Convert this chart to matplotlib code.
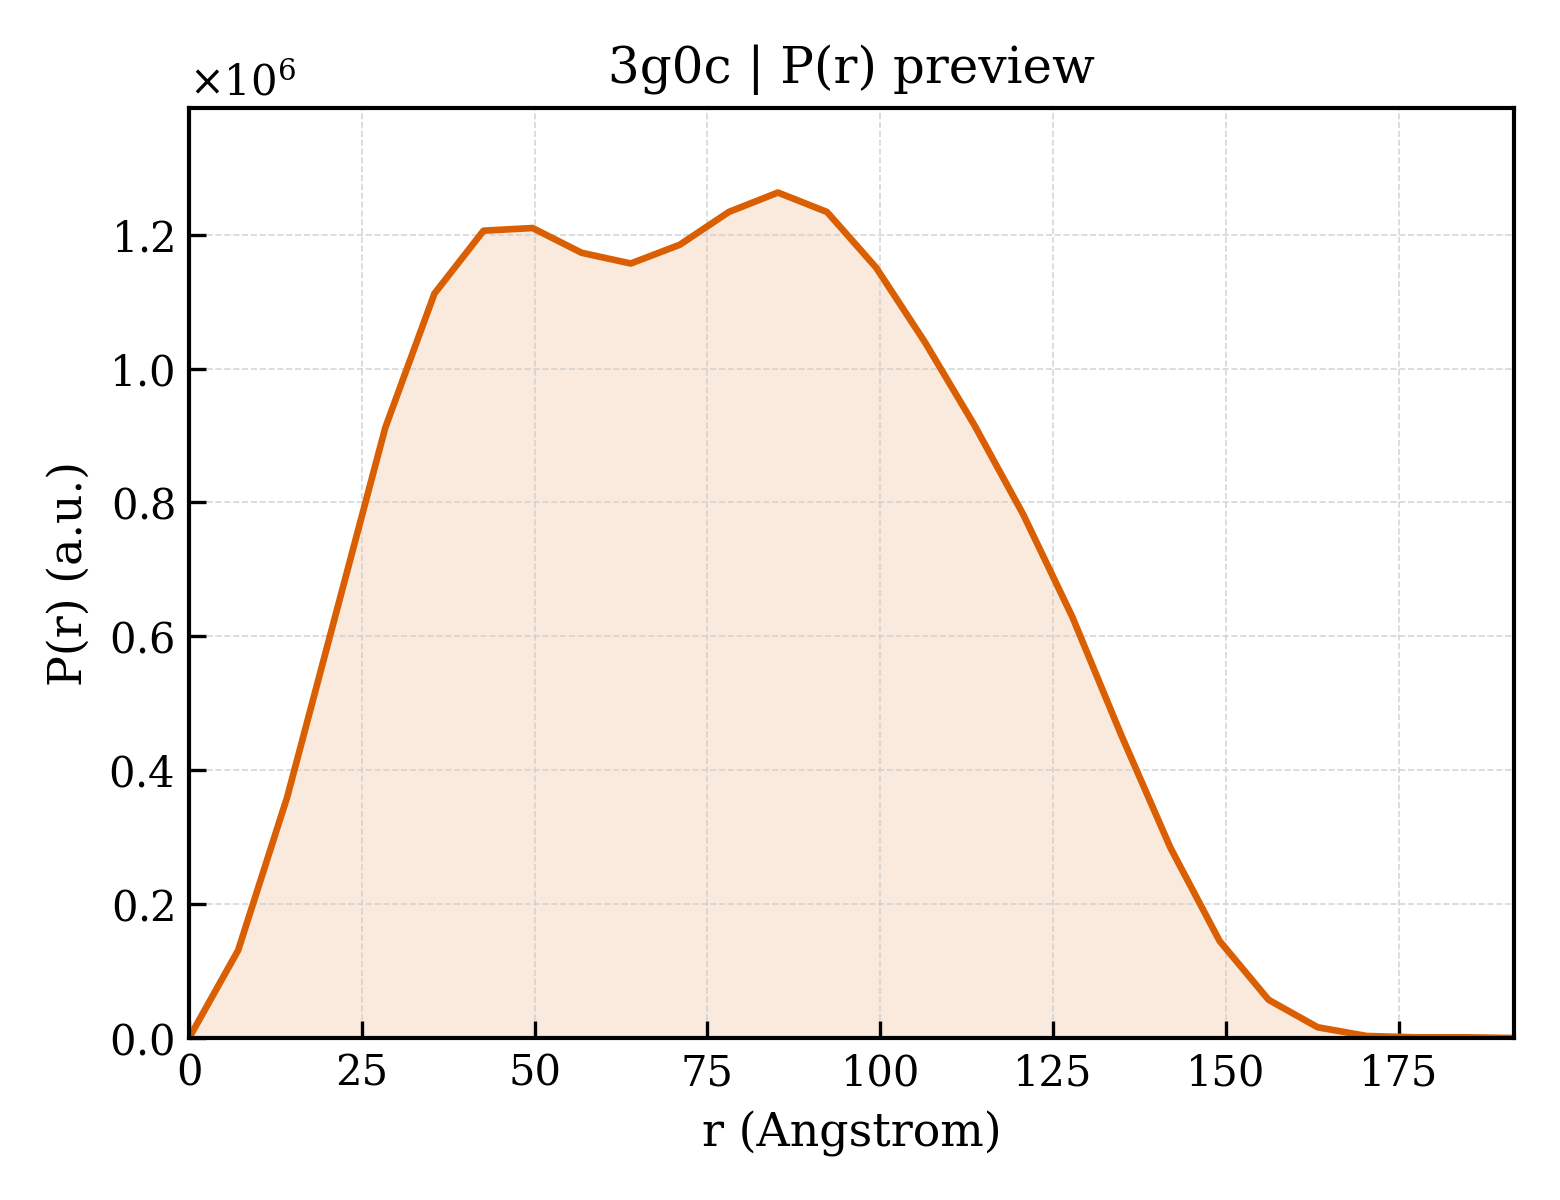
import numpy as np
import matplotlib
matplotlib.use("Agg")
import matplotlib.pyplot as plt

# P(r) values
r = [0.0, 7.1, 14.2, 21.3, 28.4, 35.5, 42.6, 49.7, 56.8, 63.9, 71.0, 78.1,
     85.2, 92.3, 99.4, 106.5, 113.6, 120.7, 127.8, 134.9, 142.0, 149.1,
     156.2, 163.3, 170.4, 177.5, 184.6, 191.7]
pr = [0.0, 0.131, 0.360, 0.636, 0.912, 1.112, 1.206, 1.210, 1.173, 1.157,
      1.185, 1.234, 1.263, 1.234, 1.151, 1.039, 0.916, 0.782, 0.629, 0.452,
      0.284, 0.145, 0.057, 0.016, 0.003, 0.001, 0.001, 0.0]
pr = [v * 1e6 for v in pr]

plt.rcParams['font.family'] = 'DejaVu Serif'
plt.rcParams['mathtext.fontset'] = 'dejavuserif'

fig, ax = plt.subplots(figsize=(5.2, 4), dpi=300)
col = '#d95f02'
ax.fill_between(r, pr, 0, color=col, alpha=0.13, linewidth=0)
ax.plot(r, pr, color=col, linewidth=1.6)

ax.set_xlim(0, max(r))
ax.set_ylim(0, max(pr) * 1.1)
ax.set_xlabel('r (Angstrom)', fontsize=11)
ax.set_ylabel('P(r) (a.u.)', fontsize=11)
ax.set_title('3g0c | P(r) preview', fontsize=12)
ax.tick_params(direction='in', labelsize=10, width=0.8, length=4)
ax.ticklabel_format(axis='y', style='sci', scilimits=(0, 0), useMathText=True)
ax.yaxis.get_offset_text().set_fontsize(10)
ax.grid(True, linestyle='--', linewidth=0.4, color='#cccccc', alpha=0.8)
for s in ax.spines.values():
    s.set_linewidth(1.0)

fig.subplots_adjust(left=0.1212, right=0.9705, top=0.91, bottom=0.135)
plt.savefig('out.png', dpi=300)
